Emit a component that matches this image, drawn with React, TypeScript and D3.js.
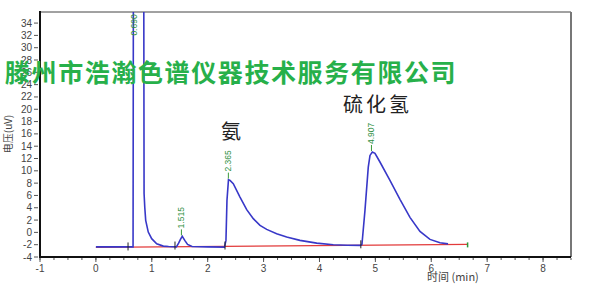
import React from "react";
import * as d3 from "d3";

// chromatogram trace: time (min) and voltage
const traceT = [0, 0.3, 0.6, 0.665, 0.672, 0.855, 0.862, 0.875, 0.891, 0.937, 0.998, 1.088, 1.206, 1.3, 1.44, 1.48, 1.515, 1.545, 1.59, 1.64, 1.72, 2.0, 2.3, 2.327, 2.345, 2.372, 2.4, 2.458, 2.578, 2.698, 2.816, 2.936, 3.056, 3.234, 3.413, 3.651, 3.95, 4.247, 4.5, 4.737, 4.76, 4.814, 4.873, 4.904, 4.945, 4.993, 5.082, 5.261, 5.44, 5.619, 5.798, 5.977, 6.156, 6.3];
const traceV = [-2.35, -2.35, -2.35, -2.35, 50, 50, 6.3, 4.0, 1.95, 0.05, -1.02, -1.84, -2.23, -2.3, -2.35, -1.75, -1.1, -0.65, -1.3, -1.95, -2.3, -2.35, -2.4, -1.3, 5.2, 8.57, 8.45, 7.92, 5.74, 3.69, 2.23, 1.14, 0.49, -0.21, -0.76, -1.3, -1.74, -2.0, -2.08, -2.11, -1.95, 3.58, 10.6, 12.5, 13.06, 12.85, 11.43, 8.46, 5.37, 2.44, 0.16, -1.14, -1.7, -1.87];

// integration baseline
const baseT = [0, 6.65];
const baseV = [-2.45, -1.95];

// integration markers
const markerT = [0.575, 1.415, 2.31, 4.74];
const markerV = [-2.45, -2.3, -2.3, -2.1];

// peaks
const peakLabels = ["0.690", "1.515", "2.365", "4.907"];
const peakT = [0.69, 1.53, 2.37, 4.93];
const peakV = [34.5, -0.65, 8.57, 13.06];

const xTicks = [-1, 0, 1, 2, 3, 4, 5, 6, 7, 8];
const yTicks = [-4, -2, 0, 2, 4, 6, 8, 10, 12, 14, 16, 18, 20, 22, 24, 26, 28, 30, 32, 34];
const xMinor = d3.range(-1, 8.5001, 0.25);

const watermark = "滕州市浩瀚色谱仪器技术服务有限公司";
const compound1 = "氨";
const compound2 = "硫化氢";
const xTitle = "时间 (min)";
const yTitle = "电压(uV)";

export default function App() {
  const L = 40, R = 571, T = 12, B = 257;
  const x = d3.scaleLinear().domain([-1, 8.5]).range([L, R]);
  const y = d3.scaleLinear().domain([-4, 35.8]).range([B, T]);
  const line = d3.line<number>().x((_, i) => x(traceT[i])).y((_, i) => y(traceV[i]));
  const baseLine = d3.line<number>().x((_, i) => x(baseT[i])).y((_, i) => y(baseV[i]));
  const font = "'Liberation Sans', Arial, sans-serif";
  const cjk = "'Noto Sans CJK SC', sans-serif";

  return (
    <svg width={600} height={301} style={{ position: "absolute", left: 0, top: 0, background: "#fff" }}>
      <defs>
        <clipPath id="plot">
          <rect x={L} y={T} width={R - L} height={B - T} />
        </clipPath>
      </defs>
      <rect x={0} y={0} width={600} height={301} fill="#fff" />
      {/* frame */}
      <line x1={L} x2={R} y1={T} y2={T} stroke="#444" strokeWidth={1} />
      <line x1={R} x2={R} y1={T} y2={B} stroke="#777" strokeWidth={2} />
      {/* traces */}
      <g clipPath="url(#plot)">
        <path d={baseLine(baseT) || ""} fill="none" stroke="#e23b3b" strokeWidth={1.2} />
        <path d={line(traceT) || ""} fill="none" stroke="#3838c8" strokeWidth={1.6} />
        {markerT.map((t, i) => (
          <line key={i} x1={x(t)} x2={x(t)} y1={y(markerV[i]) - 5} y2={y(markerV[i]) + 3} stroke="#222" strokeWidth={1} />
        ))}
        <line x1={x(baseT[1])} x2={x(baseT[1])} y1={y(baseV[1]) - 2} y2={y(baseV[1]) + 3} stroke="#2a9a3a" strokeWidth={1.5} />
        {peakLabels.map((lab, i) => {
          const px = x(peakT[i]);
          const py = y(peakV[i]);
          const bottom = i === 0 ? y(31.8) : py - 7;
          return (
            <g key={lab}>
              {i > 0 && <line x1={px} x2={px} y1={py - 1} y2={bottom} stroke="#3a9a3a" strokeWidth={1} />}
              <text
                transform={`translate(${px + 3},${bottom - 1}) rotate(-90)`}
                fontFamily={font}
                fontSize={8.5}
                fill="#2f8f3f"
              >
                {lab}
              </text>
            </g>
          );
        })}
      </g>
      {/* axes */}
      <line x1={L} x2={L} y1={T - 1} y2={B + 1} stroke="#111" strokeWidth={2} />
      <line x1={L - 1} x2={R} y1={B} y2={B} stroke="#111" strokeWidth={2} />
      {yTicks.map((v) => (
        <g key={v}>
          <line x1={L - 6} x2={L - 2} y1={y(v)} y2={y(v)} stroke="#555" strokeWidth={1} />
          <text x={L - 8} y={y(v) + 3.5} textAnchor="end" fontFamily={font} fontSize={10} fill="#444">
            {v}
          </text>
        </g>
      ))}
      {xMinor.map((t) => (
        <line key={t} x1={x(t)} x2={x(t)} y1={B + 1} y2={B + 3} stroke="#555" strokeWidth={1} />
      ))}
      {xTicks.map((t) => (
        <g key={t}>
          <line x1={x(t)} x2={x(t)} y1={B + 1} y2={B + 5} stroke="#555" strokeWidth={1} />
          <text x={x(t)} y={B + 15} textAnchor="middle" fontFamily={font} fontSize={10} fill="#444">
            {t}
          </text>
        </g>
      ))}
      <text x={427} y={281} fontFamily={cjk} fontSize={11} fill="#444">
        {xTitle}
      </text>
      <text transform="translate(12,134) rotate(-90)" textAnchor="middle" fontFamily={cjk} fontSize={10} fill="#444">
        {yTitle}
      </text>
      {/* annotations */}
      <text x={221} y={139} fontFamily={cjk} fontSize={20} fill="#222">
        {compound1}
      </text>
      <text x={343} y={112} fontFamily={cjk} fontSize={20} letterSpacing={3} fill="#222">
        {compound2}
      </text>
      <text x={5} y={82} fontFamily={cjk} fontWeight="bold" fontSize={25} letterSpacing={1.6} fill="#27b04a">
        {watermark}
      </text>
    </svg>
  );
}
